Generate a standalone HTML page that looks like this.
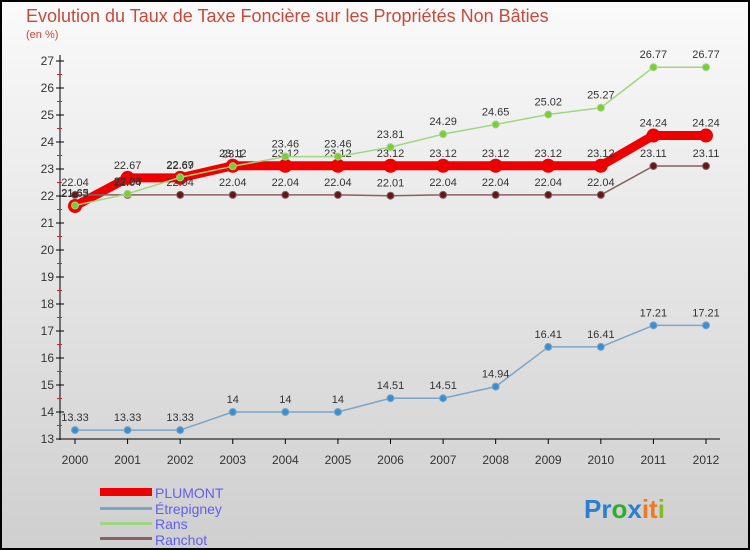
<!DOCTYPE html>
<html><head><meta charset="utf-8"><style>
body{margin:0;}
#c{width:750px;height:550px;position:relative;overflow:hidden;background:linear-gradient(#fafafa,#cfcfcf);box-sizing:border-box;border:2px solid #000;font-family:"Liberation Sans",sans-serif;}
svg text{font-family:"Liberation Sans",sans-serif;}
</style></head><body>
<div id="c">
<svg id="s" width="750" height="550" style="position:absolute;left:-2px;top:-2px">
<text x="26" y="22" font-size="18" fill="#c84a3a">Evolution du Taux de Taxe Foncière sur les Propriétés Non Bâties</text>
<text x="26" y="38" font-size="11" fill="#c84a3a">(en %)</text>
<g id="g"></g>
<g>
<rect x="100" y="488" width="52" height="8" fill="#ee0000"/>
<text x="155" y="498" font-size="14" fill="#6060ee">PLUMONT</text>
<rect x="100" y="507" width="52" height="3" fill="#7aa6c8"/>
<text x="155" y="514" font-size="14" fill="#6060ee">Étrepigney</text>
<rect x="100" y="522" width="52" height="3" fill="#9fd67f"/>
<text x="155" y="529" font-size="14" fill="#6060ee">Rans</text>
<rect x="100" y="537" width="52" height="3" fill="#8a6060"/>
<text x="155" y="545" font-size="14" fill="#6060ee">Ranchot</text>
</g>
<text x="584" y="518" font-size="26" font-weight="bold"><tspan fill="#2a7fd0">Pr</tspan><tspan fill="#33aa33">o</tspan><tspan fill="#2a7fd0">x</tspan><tspan fill="#f07820">it</tspan><tspan fill="#88bb22">i</tspan></text>
</svg>
</div>
<script>
const years=[2000,2001,2002,2003,2004,2005,2006,2007,2008,2009,2010,2011,2012];
const yTicks=[13,14,15,16,17,18,19,20,21,22,23,24,25,26,27];
const plumont=[21.63,22.67,22.67,23.12,23.12,23.12,23.12,23.12,23.12,23.12,23.12,24.24,24.24];
const etrepigney=[13.33,13.33,13.33,14,14,14,14.51,14.51,14.94,16.41,16.41,17.21,17.21];
const rans=[21.65,22.08,22.69,23.1,23.46,23.46,23.81,24.29,24.65,25.02,25.27,26.77,26.77];
const ranchot=[22.04,22.04,22.04,22.04,22.04,22.04,22.01,22.04,22.04,22.04,22.04,23.11,23.11];
const X=i=>75+i*(706-75)/(years.length-1);
const Y=v=>439-(v-13)*(439-61)/14;
const NS="http://www.w3.org/2000/svg";
const g=document.getElementById('g');
function mk(t,a){const e=document.createElementNS(NS,t);for(const k in a)e.setAttribute(k,a[k]);g.appendChild(e);return e;}
let e=mk('line',{x1:60,y1:55,x2:60,y2:440,stroke:'#000'});


e=mk('line',{x1:60,y1:439,x2:720,y2:439,stroke:'#000'});


yTicks.forEach(v=>{
 e=mk('line',{x1:56,y1:Y(v),x2:64,y2:Y(v),stroke:'#000'});
 
 
 if(v<27){e=mk('line',{x1:57,y1:Y(v+0.5),x2:62,y2:Y(v+0.5),stroke:'#e02020'});
 
 }
 e=mk('text',{x:54,y:Y(v)+4,'font-size':12,'text-anchor':'end',fill:'#333'});
 e.textContent=v;
 
 
});
years.forEach((yr,i)=>{
 e=mk('line',{x1:X(i),y1:439,x2:X(i),y2:444,stroke:'#000'});
 
 
 e=mk('text',{x:X(i),y:464,'font-size':12,'text-anchor':'middle',fill:'#333'});
 e.textContent=yr;
 
 
});
function series(d,name,col,w,r,fill){
 e=mk('polyline',{points:d.map((v,i)=>X(i)+','+Y(v)).join(' '),fill:'none',stroke:col,'stroke-width':w,'stroke-linejoin':'round'});
 
 
 d.forEach((v,i)=>{
  e=mk('circle',{cx:X(i),cy:Y(v),r:r,fill:fill,stroke:col,'stroke-width':w>3?0:1});
  
  
  e=mk('text',{x:X(i),y:Y(v)-9,'font-size':11,'text-anchor':'middle',fill:'#333'});
  e.textContent=String(v).replace(/\.0+$/,'');
  
  
 });
}
series(plumont,'plumont','#ee0000',9,7,'#ee0000');
series(etrepigney,'etrepigney','#7aa6c8',1.5,3.5,'#3d8ecf');
series(ranchot,'ranchot','#8a6060',1.5,3.5,'#601818');
series(rans,'rans','#9fd67f',1.5,3.5,'#7ccc3a');
</script>
</body></html>
